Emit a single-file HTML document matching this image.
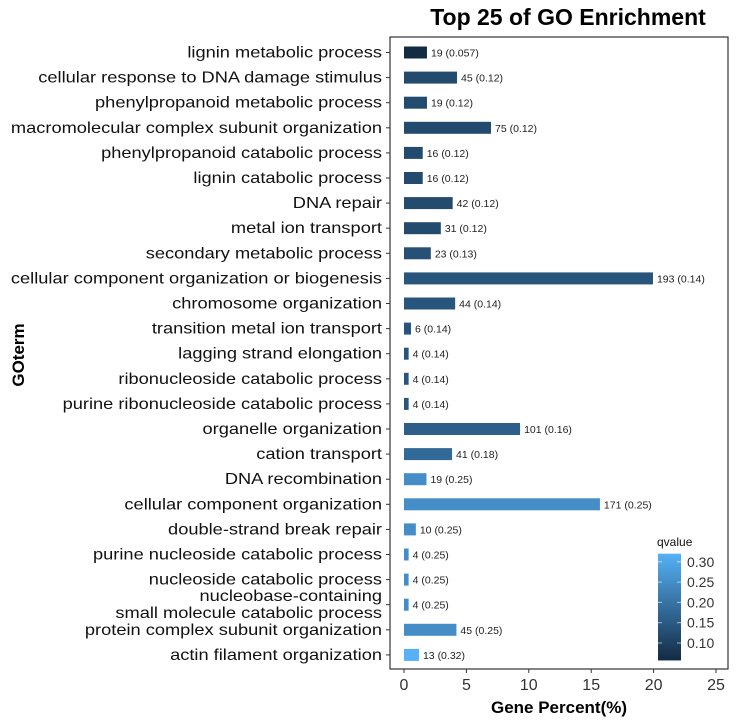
<!DOCTYPE html>
<html><head><meta charset="utf-8"><style>
body{margin:0;background:#fff;font-family:"Liberation Sans",sans-serif}
</style></head><body>
<svg id="c" width="737" height="721" xmlns="http://www.w3.org/2000/svg">
<defs><linearGradient id="g" x1="0" y1="1" x2="0" y2="0"><stop offset="0" stop-color="#132B43"/><stop offset="1" stop-color="#56B1F7"/></linearGradient></defs>
</svg>
<script>
const terms=["lignin metabolic process","cellular response to DNA damage stimulus","phenylpropanoid metabolic process","macromolecular complex subunit organization","phenylpropanoid catabolic process","lignin catabolic process","DNA repair","metal ion transport","secondary metabolic process","cellular component organization or biogenesis","chromosome organization","transition metal ion transport","lagging strand elongation","ribonucleoside catabolic process","purine ribonucleoside catabolic process","organelle organization","cation transport","DNA recombination","cellular component organization","double-strand break repair","purine nucleoside catabolic process","nucleoside catabolic process","nucleobase-containing|small molecule catabolic process","protein complex subunit organization","actin filament organization"];
const percents=[1.84,4.25,1.84,6.97,1.5,1.5,3.9,2.95,2.15,19.95,4.1,0.56,0.37,0.37,0.37,9.3,3.85,1.8,15.7,0.95,0.37,0.37,0.37,4.2,1.2];
const counts=[19,45,19,75,16,16,42,31,23,193,44,6,4,4,4,101,41,19,171,10,4,4,4,45,13];
const qvalues=[0.057,0.12,0.12,0.12,0.12,0.12,0.12,0.12,0.13,0.14,0.14,0.14,0.14,0.14,0.14,0.16,0.18,0.25,0.25,0.25,0.25,0.25,0.25,0.25,0.32];
const xTicks=[0,5,10,15,20,25];
const qTicks=[0.10,0.15,0.20,0.25,0.30];
const svg=document.getElementById('c');const NS='http://www.w3.org/2000/svg';
function mk(t,a,p){const e=document.createElementNS(NS,t);for(const k in a)e.setAttribute(k,a[k]);(p||svg).appendChild(e);return e;}
const x=v=>404+v*12.48;
const y=i=>52.5+i*25.1;
const qmin=0.057,qmax=0.32;
function col(q){const t=Math.max(0,Math.min(1,(q-qmin)/(qmax-qmin)));const a=[0x13,0x2B,0x43],b=[0x56,0xB1,0xF7];return 'rgb('+a.map((v,i)=>Math.round(v+(b[i]-v)*t)).join(',')+')';}
let e=mk('text',{x:568,y:25,'text-anchor':'middle','font-size':23,'font-weight':'bold',fill:'#000'});e.textContent='Top 25 of GO Enrichment';


e=mk('rect',{x:390,y:37,width:338,height:632,fill:'none',stroke:'#333','stroke-width':1.2});


terms.forEach((t,i)=>{
 const b=mk('rect',{x:x(0),y:y(i)-6,width:x(percents[i])-x(0),height:12,fill:col(qvalues[i])});
 
 
 const l=mk('text',{x:x(percents[i])+4,y:y(i)+4,'font-size':10.5,fill:'#222'});l.textContent=counts[i]+' ('+qvalues[i]+')';
 
 
 mk('line',{x1:386,x2:390,y1:y(i),y2:y(i),stroke:'#333'});
 const parts=t.split('|');
 parts.forEach((p,j)=>{const tl=mk('text',{x:382,y:y(i)+5+(j-(parts.length-1)/2)*17,'text-anchor':'end','font-size':16,fill:'#111'});tl.textContent=p;
 
 
 const w=tl.getComputedTextLength();tl.setAttribute('textLength',w*1.14);tl.setAttribute('lengthAdjust','spacingAndGlyphs');});
});
xTicks.forEach(v=>{mk('line',{x1:x(v),x2:x(v),y1:669,y2:673,stroke:'#333'});
 const t=mk('text',{x:x(v),y:690,'text-anchor':'middle','font-size':16,fill:'#333'});t.textContent=v;
 
 });
e=mk('text',{x:559,y:713,'text-anchor':'middle','font-size':17,'font-weight':'bold'});e.textContent='Gene Percent(%)';


e=mk('text',{x:24,y:355,'text-anchor':'middle','font-size':17,'font-weight':'bold',transform:'rotate(-90 24 355)'});e.textContent='GOterm';


const qy=q=>643-(q-0.10)*406;
e=mk('text',{x:657,y:546,'font-size':12,fill:'#111'});e.textContent='qvalue';


e=mk('rect',{x:658,y:qy(qmax),width:23,height:qy(qmin)-qy(qmax),fill:'url(#g)'});


qTicks.forEach(q=>{mk('line',{x1:658,x2:662,y1:qy(q),y2:qy(q),stroke:'#fff','stroke-opacity':0.6});mk('line',{x1:677,x2:681,y1:qy(q),y2:qy(q),stroke:'#fff','stroke-opacity':0.6});
 const t=mk('text',{x:687,y:qy(q)+5,'font-size':14,fill:'#333'});t.textContent=q.toFixed(2);
 
 });
</script>
</body></html>
